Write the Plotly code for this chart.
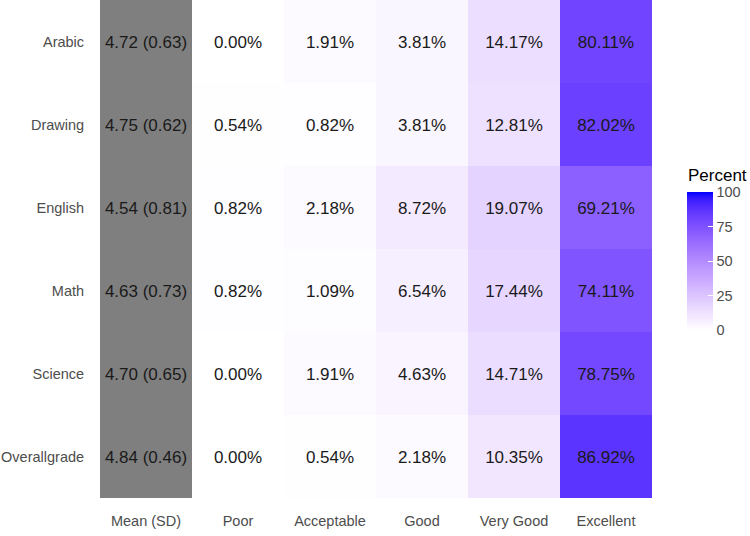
import plotly.graph_objects as go
import numpy as np

subjects = ["Arabic", "Drawing", "English", "Math", "Science", "Overallgrade"]
columns = ["Mean (SD)", "Poor", "Acceptable", "Good", "Very Good", "Excellent"]
means = [4.72, 4.75, 4.54, 4.63, 4.70, 4.84]
sds = [0.63, 0.62, 0.81, 0.73, 0.65, 0.46]
poor = [0.00, 0.54, 0.82, 0.82, 0.00, 0.00]
acceptable = [1.91, 0.82, 2.18, 1.09, 1.91, 0.54]
good = [3.81, 3.81, 8.72, 6.54, 4.63, 2.18]
very_good = [14.17, 12.81, 19.07, 17.44, 14.71, 10.35]
excellent = [80.11, 82.02, 69.21, 74.11, 78.75, 86.92]


# white -> blue gradient interpolated in CIELAB (like ggplot2)
def srgb_to_lab(rgb):
    c = np.array(rgb) / 255.0
    c = np.where(c <= 0.04045, c / 12.92, ((c + 0.055) / 1.055) ** 2.4)
    M = np.array([[0.4124, 0.3576, 0.1805], [0.2126, 0.7152, 0.0722], [0.0193, 0.1192, 0.9505]])
    xyz = M @ c
    wp = np.array([0.95047, 1.0, 1.08883])
    t = xyz / wp
    f = np.where(t > (6 / 29) ** 3, np.cbrt(t), t / (3 * (6 / 29) ** 2) + 4 / 29)
    return np.array([116 * f[1] - 16, 500 * (f[0] - f[1]), 200 * (f[1] - f[2])])


def lab_to_srgb(lab):
    L, a, b = lab
    fy = (L + 16) / 116
    fx = fy + a / 500
    fz = fy - b / 200
    def finv(f):
        return f ** 3 if f > 6 / 29 else 3 * (6 / 29) ** 2 * (f - 4 / 29)
    wp = np.array([0.95047, 1.0, 1.08883])
    xyz = np.array([finv(fx), finv(fy), finv(fz)]) * wp
    Minv = np.array([[3.2406, -1.5372, -0.4986], [-0.9689, 1.8758, 0.0415], [0.0557, -0.2040, 1.0570]])
    c = Minv @ xyz
    c = np.clip(c, 0, 1)
    c = np.where(c <= 0.0031308, 12.92 * c, 1.055 * c ** (1 / 2.4) - 0.055)
    return tuple(int(round(v * 255)) for v in np.clip(c, 0, 1))


lw = srgb_to_lab((255, 255, 255))
lb = srgb_to_lab((0, 0, 255))
colorscale = []
for t in np.linspace(0, 1, 21):
    r, g, b = lab_to_srgb(lw + (lb - lw) * t)
    colorscale.append([float(t), f"rgb({r},{g},{b})"])

pct_z = [[poor[i], acceptable[i], good[i], very_good[i], excellent[i]] for i in range(len(subjects))]
pct_text = [[f"{v:.2f}%" for v in row] for row in pct_z]
mean_text = [[f"{m:.2f} ({s:.2f})"] for m, s in zip(means, sds)]
col_idx = list(range(len(columns)))
row_idx = list(range(len(subjects)))

cell_font = dict(size=17, color="#1a1a1a", family="Liberation Sans, Arial")

fig = go.Figure()
fig.add_trace(go.Heatmap(
    x=col_idx[:1], y=row_idx, z=[[1] for _ in subjects],
    text=mean_text, texttemplate="%{text}", textfont=cell_font,
    colorscale=[[0, "#7F7F7F"], [1, "#7F7F7F"]], showscale=False, hoverinfo="skip",
))
fig.add_trace(go.Heatmap(
    x=col_idx[1:], y=row_idx, z=pct_z,
    text=pct_text, texttemplate="%{text}", textfont=cell_font,
    colorscale=colorscale, zmin=0, zmax=100,
    colorbar=dict(
        x=0.903, xanchor="left", xpad=0, y=(498 - 261) / 498, yanchor="middle", ypad=0,
        len=138, lenmode="pixels", thickness=26, thicknessmode="pixels",
        tickvals=[0, 25, 50, 75, 100], ticks="inside", ticklen=5, tickcolor="white",
        tickfont=dict(size=14.5, color="#4D4D4D"), outlinewidth=0,
    ),
))

fig.add_annotation(
    text="Percent", xref="paper", yref="paper", x=0.902, y=(498 - 175) / 498,
    xanchor="left", yanchor="middle", showarrow=False,
    font=dict(size=17, color="#000000", family="Liberation Sans, Arial"),
)

fig.update_layout(
    width=750, height=536,
    margin=dict(l=100, r=0, t=0, b=38),
    paper_bgcolor="white", plot_bgcolor="white",
    font=dict(family="Liberation Sans, Arial", color="#4D4D4D"),
    xaxis=dict(domain=[0, 552 / 650], range=[-0.5, 5.5], tickvals=col_idx, ticktext=columns,
               showgrid=False, zeroline=False,
               ticks="outside", ticklen=10, tickcolor="rgba(0,0,0,0)",
               tickfont=dict(size=14.5, color="#4D4D4D")),
    yaxis=dict(range=[5.5, -0.5], tickvals=row_idx, ticktext=subjects, showgrid=False, zeroline=False,
               ticks="outside", ticklen=12, tickcolor="rgba(0,0,0,0)",
               tickfont=dict(size=14.5, color="#4D4D4D")),
)
fig.write_html("out.html")
